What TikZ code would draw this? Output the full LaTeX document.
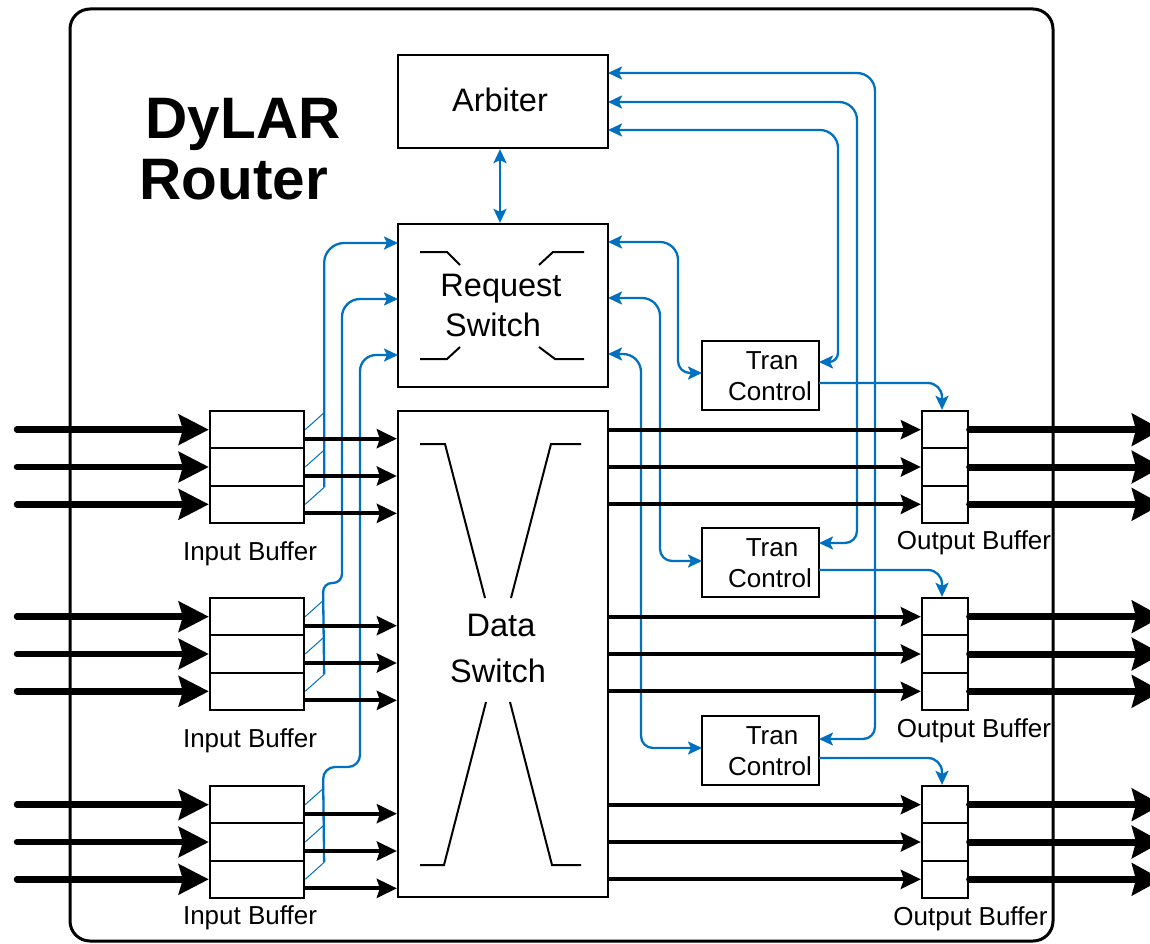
\documentclass[tikz,border=0pt]{standalone}
\usepackage{fontspec}
\setmainfont{Liberation Sans}
\usetikzlibrary{arrows.meta}
\definecolor{lblue}{HTML}{0070C0}
\begin{document}
\begin{tikzpicture}[x=1pt,y=-1pt,
  box/.style={draw,line width=2.3pt,fill=white,inner sep=0pt},
  cellbox/.style={box,minimum width=94pt,minimum height=37.33pt},
  ocell/.style={box,minimum width=46pt,minimum height=37.33pt},
  txt/.style={anchor=base,inner sep=0pt,font=\fontsize{32.5}{36}\selectfont},
  bufftxt/.style={anchor=base,inner sep=0pt,font=\fontsize{26}{30}\selectfont},
  tctxt/.style={anchor=base,inner sep=0pt,font=\fontsize{26}{30}\selectfont},
  titletxt/.style={anchor=base,inner sep=0pt,font=\fontsize{58.5}{60}\selectfont\bfseries},
  bl/.style={draw=lblue,line width=2.3pt},
  blthin/.style={draw=lblue,line width=1pt},
  barr/.style={-{Stealth[length=14pt,width=13pt,inset=3pt]}},
  bdarr/.style={{Stealth[length=14pt,width=13pt,inset=3pt]}-{Stealth[length=14pt,width=13pt,inset=3pt]}},
  inarr/.style={line width=6.5pt,line cap=round,-{Stealth[length=30pt,width=30pt,inset=4pt]}},
  outarr/.style={line width=7pt,-{Stealth[length=30pt,width=32pt,inset=4pt]}},
  midarr/.style={line width=3.8pt,-{Stealth[length=20pt,width=19pt,inset=3pt]}},
  swline/.style={line width=2pt},
]
\path[fill=white] (0,0) rectangle (1150,944);
\useasboundingbox (0,0) rectangle (1150,944);

% frame
\node[draw,line width=3pt,rounded corners=20pt,minimum width=983pt,minimum height=932pt,inner sep=0pt] (frame) at (561.5,475) {};

% title
\node[titletxt] (title1) at (243,139) {DyLAR};
\node[titletxt] (title2) at (234,200) {Router};

% main blocks
\node[box,minimum width=210pt,minimum height=93pt] (arb) at (503,101.5) {};
\node[txt] (arbt) at (500,112) {Arbiter};
\node[box,minimum width=210pt,minimum height=163pt] (rs) at (503,305.5) {};
\node[txt] (rst1) at (501,296) {Request};
\node[txt] (rst2) at (493,336) {Switch};
\node[box,minimum width=210pt,minimum height=486pt] (ds) at (503,654) {};
\node[txt] (dst1) at (501,636) {Data};
\node[txt] (dst2) at (498,682) {Switch};

% switch internals
\draw[swline] (420,252) -- (447,252) -- (460,265);
\draw[swline] (539,265) -- (553,252) -- (584,252);
\draw[swline] (420,359) -- (447,359) -- (460,347);
\draw[swline] (539,347) -- (555,359) -- (584,359);
\draw[swline] (420,444) -- (445,444) -- (485,598);
\draw[swline] (581,444) -- (551,444) -- (511,598);
\draw[swline] (420,865) -- (444,865) -- (486,702);
\draw[swline] (581,865) -- (552,865) -- (510,702);

% tran controls
\foreach \i/\tp in {1/341,2/528,3/716}{
  \node[box,minimum width=117pt,minimum height=69pt] (tc\i) at (760.5,\tp+34.5) {};
  \node[tctxt] (tct\i) at (772,\tp+28) {Tran};
  \node[tctxt] (tcc\i) at (770,\tp+59) {Control};
}

% buffers
\foreach \b/\T in {1/411,2/598,3/786}{
  \foreach \k/\n in {0/a,1/b,2/c}{
    \pgfmathsetmacro\yy{\T+18.667+37.333*\k}
    \node[cellbox] (ib\b\n) at (257,\yy) {};
    \node[ocell] (ob\b\n) at (945,\yy) {};
    \coordinate (in\b\n) at (17,\yy);
    \coordinate (out\b\n) at (1162,\yy);
  }
}
\node[bufftxt] (ibl1) at (250,560) {Input Buffer};
\node[bufftxt] (ibl2) at (250,747) {Input Buffer};
\node[bufftxt] (ibl3) at (250,924) {Input Buffer};
\node[bufftxt] (obl1) at (974,549) {Output Buffer};
\node[bufftxt] (obl2) at (974,737) {Output Buffer};
\node[bufftxt] (obl3) at (970.5,925) {Output Buffer};

% ports
\coordinate (rsL1) at (398,243);
\coordinate (rsL2) at (398,299);
\coordinate (rsL3) at (398,355);
\coordinate (rsR1) at (608,242);
\coordinate (rsR2) at (608,298);
\coordinate (rsR3) at (608,354);
\coordinate (arbR1) at (608,130);
\coordinate (arbR2) at (608,102);
\coordinate (arbR3) at (608,73);
\coordinate (tc1W) at (702,373);
\coordinate (tc2W) at (702,561);
\coordinate (tc3W) at (702,748);
\coordinate (tc1E) at (819,362);
\coordinate (tc2E) at (819,543);
\coordinate (tc3E) at (819,739);
\coordinate (tc1O) at (819,383);
\coordinate (tc2O) at (819,570);
\coordinate (tc3O) at (819,758);

% blue connectors
\draw[bl,bdarr] ([xshift=-3pt]arb.south) -- ([xshift=-3pt]rs.north);
\draw[bl,bdarr,rounded corners=18pt] (arbR1) -- (838,130) [rounded corners=9pt] -- (838,362) -- (tc1E);
\draw[bl,bdarr,rounded corners=18pt] (arbR2) -- (857,102) [rounded corners=12pt] -- (857,543) -- (tc2E);
\draw[bl,bdarr,rounded corners=18pt] (arbR3) -- (875,73) [rounded corners=12pt] -- (875,739) -- (tc3E);
\draw[bl,bdarr,rounded corners=18pt] (rsR1) -- (678,242) [rounded corners=12pt] -- (678,373) -- (tc1W);
\draw[bl,bdarr,rounded corners=18pt] (rsR2) -- (660,298) [rounded corners=12pt] -- (660,561) -- (tc2W);
\draw[bl,bdarr,rounded corners=18pt] (rsR3) -- (641,354) [rounded corners=12pt] -- (641,748) -- (tc3W);
\draw[bl,barr,rounded corners=14pt] (tc1O) -| ([xshift=-3pt]ob1a.north);
\draw[bl,barr,rounded corners=14pt] (tc2O) -| ([xshift=-3pt]ob2a.north);
\draw[bl,barr,rounded corners=14pt] (tc3O) -| ([xshift=-3pt]ob3a.north);

\coordinate (j1) at ([shift={(19,-17)}]ib1c.east);
\coordinate (j2) at ([shift={(19,-17)}]ib2c.east);
\coordinate (j3) at ([shift={(19,-17)}]ib3c.east);
\draw[bl,barr,rounded corners=20pt] (j1) |- (rsL1);
\draw[bl,barr,rounded corners=9pt] (j2) -- (323,583) -- (342,583) [rounded corners=18pt] -- (342,299) -- (rsL2);
\draw[bl,barr,rounded corners=12pt] (j3) -- (323,767) -- (360,767) [rounded corners=16pt] -- (360,355) -- (rsL3);

\foreach \b in {1,2,3}{
  \foreach \n in {a,b,c}{
    \draw[blthin] (ib\b\n.east) -- ++(19,-17);
  }
}

% black data arrows
\foreach \b in {1,2,3}{
  \foreach \n in {a,b,c}{
    \draw[inarr] (in\b\n) -- (ib\b\n.west);
    \draw[midarr] ([yshift=-9pt]ib\b\n.east) -- ([yshift=-9pt]ib\b\n.east -| ds.west);
    \draw[midarr] (ob\b\n.west -| ds.east) -- (ob\b\n.west);
    \fill (ob\b\n.east) circle (3pt);
    \draw[outarr] (ob\b\n.east) -- (out\b\n);
  }
}
\end{tikzpicture}
\end{document}
